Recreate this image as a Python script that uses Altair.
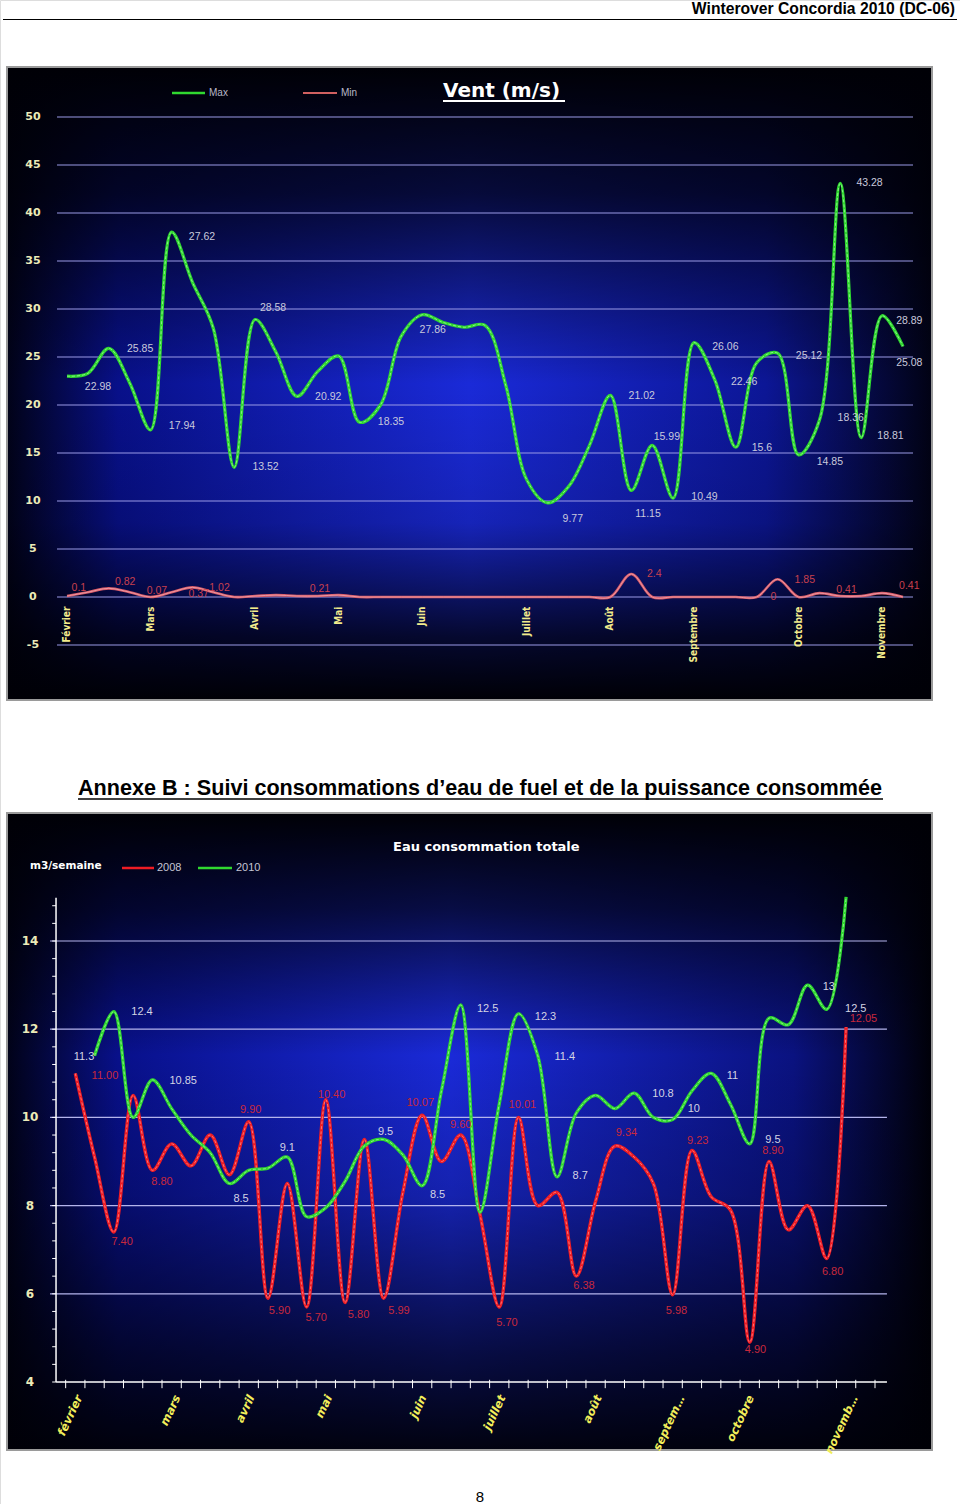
import altair as alt
import pandas as pd

# ---------------- Chart 1 : Vent (m/s) - weekly values, Février -> Novembre
wind_week = list(range(41))
wind_max = [23.0, 23.3, 25.9, 22.3, 17.4, 38.0, 32.8, 28.0, 13.5, 28.9,
            25.5, 20.9, 23.5, 25.1, 18.2, 20.0, 27.2, 29.4, 28.6, 28.1,
            28.3, 22.0, 12.2, 9.8, 11.5, 15.8, 21.0, 11.1, 15.8, 10.3,
            26.5, 22.6, 15.6, 24.4, 25.4, 14.8, 18.4, 43.1, 16.6, 29.3, 26.1]
wind_min = [0.1, 0.5, 0.9, 0.5, 0.0, 0.5, 1.0, 0.5, 0.0, 0.1,
            0.2, 0.1, 0.1, 0.2, 0.0, 0.0, 0.0, 0.0, 0.0, 0.0,
            0.0, 0.0, 0.0, 0.0, 0.0, 0.0, 0.0, 2.4, 0.0, 0.0,
            0.0, 0.0, 0.0, 0.0, 1.85, 0.0, 0.4, 0.1, 0.1, 0.4, 0.0]
wind_yticks = [-5, 0, 5, 10, 15, 20, 25, 30, 35, 40, 45, 50]
wind_months = ["Février", "Mars", "Avril", "Mai", "Juin", "Juillet", "Août",
               "Septembre", "Octobre", "Novembre"]
wind_month_week = [0, 4, 9, 13, 17, 22, 26, 30, 35, 39]

max_lbl_text = ["22.98", "25.85", "27.62", "17.94", "28.58", "13.52", "20.92", "18.35",
                "27.86", "9.77", "21.02", "11.15", "15.99", "10.49", "26.06", "22.46",
                "15.6", "25.12", "14.85", "43.28", "18.36", "18.81", "28.89", "25.08"]
max_lbl_week = [1.48, 3.5, 6.46, 5.5, 9.86, 9.5, 12.5, 15.5, 17.5, 24.2, 27.5, 27.8,
                28.7, 30.5, 31.5, 32.4, 33.25, 35.5, 36.5, 38.4, 37.5, 39.4, 40.3, 40.3]
max_lbl_val = [21.9, 25.8, 37.5, 17.8, 30.1, 13.5, 20.8, 18.2, 27.8, 8.1, 20.9, 8.6,
               16.7, 10.4, 26.0, 22.4, 15.5, 25.1, 14.1, 43.1, 18.6, 16.8, 28.75, 24.4]
min_lbl_text = ["0.1", "0.82", "0.07", "0.37", "1.02", "0.21", "2.4", "0", "1.85", "0.41", "0.41"]
min_lbl_week = [0.57, 2.78, 4.3, 6.3, 7.3, 12.1, 28.1, 33.8, 35.3, 37.3, 40.3]
min_lbl_val = [0.94, 1.56, 0.6, 0.3, 0.94, 0.83, 2.4, 0.0, 1.8, 0.7, 1.1]

# ---------------- Chart 2 : Eau consommation totale (m3/semaine)
eau_week_2008 = list(range(41))
eau_2008 = [11.0, 9.1, 7.4, 10.5, 8.8, 9.4, 8.9, 9.6, 8.7, 9.9,
            5.9, 8.5, 5.7, 10.4, 5.8, 9.5, 5.9, 8.3, 10.05, 9.0,
            9.6, 7.8, 5.7, 10.0, 8.0, 8.3, 6.4, 8.1, 9.35, 9.1,
            8.5, 5.98, 9.25, 8.2, 7.9, 4.9, 9.0, 7.45, 8.0, 6.8, 12.05]
eau_week_2010 = list(range(1, 41))
eau_2010 = [11.4, 12.4, 10.0, 10.85, 10.2, 9.6, 9.2, 8.5, 8.8,
            8.85, 9.1, 7.75, 7.95, 8.55, 9.35, 9.5, 9.15, 8.45, 10.6,
            12.55, 7.85, 10.3, 12.35, 11.4, 8.65, 10.1, 10.5, 10.2, 10.55,
            10.0, 9.95, 10.6, 11.0, 10.3, 9.4, 12.25, 12.1, 13.0, 12.45, 15.0]
eau_yticks = [4, 6, 8, 10, 12, 14]
eau_grid = [6, 8, 10, 12, 14]
eau_minor = [4.0, 4.4, 4.8, 5.2, 5.6, 6.0, 6.4, 6.8, 7.2, 7.6, 8.0, 8.4, 8.8, 9.2,
             9.6, 10.0, 10.4, 10.8, 11.2, 11.6, 12.0, 12.4, 12.8, 13.2, 13.6, 14.0,
             14.4, 14.8]
eau_xticks = [k - 0.5 for k in range(43)]
eau_months = ["février", "mars", "avril", "mai", "juin", "juillet", "août",
              "septem…", "octobre", "novemb…"]
eau_month_week = [0.24, 5.33, 9.17, 13.2, 18.1, 22.2, 27.2, 31.5, 35.1, 40.5]

lbl10_text = ["11.3", "12.4", "10.85", "8.5", "9.1", "9.5", "8.5", "12.5", "12.3",
              "11.4", "8.7", "10.8", "10", "11", "9.5", "13", "12.5"]
lbl10_week = [0.45, 3.46, 5.6, 8.6, 11.0, 16.1, 18.8, 21.4, 24.4, 25.4, 26.2,
              30.5, 32.1, 34.1, 36.2, 39.1, 40.5]
lbl10_val = [11.36, 12.38, 10.82, 8.14, 9.3, 9.66, 8.23, 12.45, 12.27, 11.38, 8.66,
             10.54, 10.18, 10.95, 9.48, 12.95, 12.45]
lbl08_text = ["11.00", "7.40", "8.80", "9.90", "5.90", "10.40", "5.70", "5.80", "5.99",
              "10.07", "9.60", "5.70", "10.01", "6.38", "9.34", "9.23", "5.98", "4.90",
              "8.90", "6.80", "12.05"]
lbl08_week = [1.54, 2.43, 4.5, 9.1, 10.6, 13.3, 12.5, 14.7, 16.8, 17.9, 20.0, 22.4,
              23.2, 26.4, 28.6, 32.3, 31.2, 35.3, 36.2, 39.3, 40.9]
lbl08_val = [10.95, 7.17, 8.53, 10.16, 5.6, 10.5, 5.44, 5.53, 5.6, 10.32, 9.82, 5.33,
             10.27, 6.17, 9.64, 9.46, 5.62, 4.72, 9.23, 6.49, 12.24]

# ---------------- scales (pixel ranges place each panel on the page)
X1 = alt.Scale(domain=[0, 40], range=[67, 903], nice=False, zero=False)
Y1 = alt.Scale(domain=[-5, 50], range=[645, 117], nice=False, zero=False)
X2 = alt.Scale(domain=[0, 40], range=[75.3, 846.1], nice=False, zero=False)
Y2 = alt.Scale(domain=[4, 15], range=[1382, 896.9], nice=False, zero=False)

one = pd.DataFrame({"a": [0]})
COND = "'DejaVu Sans Condensed', 'Liberation Sans', sans-serif"


def xq(field, sc):
    return alt.X(field, type="quantitative", scale=sc, axis=None)


def yq(field, sc):
    return alt.Y(field, type="quantitative", scale=sc, axis=None)


def lin(stops, vertical=False):
    return {"gradient": "linear", "x1": 0, "y1": 0,
            "x2": 0 if vertical else 1, "y2": 1 if vertical else 0,
            "stops": [{"offset": o, "color": c} for o, c in stops]}


layers = []


def background(x1, x2, y1, y2, hstops, vstops):
    base = alt.Chart(one).mark_rect(fill=lin(hstops)).encode(
        x=alt.value(x1), x2=alt.value(x2), y=alt.value(y1), y2=alt.value(y2))
    shade = alt.Chart(one).mark_rect(fill=lin(vstops, True), stroke="#9a9a9a",
                                     strokeWidth=2).encode(
        x=alt.value(x1), x2=alt.value(x2), y=alt.value(y1), y2=alt.value(y2))
    return [base, shade]


layers += background(7, 932, 67, 700,
                     [(0, "#010218"), (0.12, "#08108a"), (0.5, "#1a2ad8"),
                      (0.82, "#0c1696"), (1, "#010214")],
                     [(0, "rgba(0,0,6,1)"), (0.2, "rgba(0,0,6,0.75)"),
                      (0.5, "rgba(0,0,6,0)"), (0.72, "rgba(0,0,6,0.15)"),
                      (0.9, "rgba(0,0,6,0.8)"), (1, "rgba(0,0,6,1)")])
layers += background(7, 932, 813, 1450,
                     [(0, "#010218"), (0.12, "#08108a"), (0.48, "#1a2ad8"),
                      (0.85, "#0a1280"), (1, "#000008")],
                     [(0, "rgba(0,0,6,1)"), (0.15, "rgba(0,0,6,0.7)"),
                      (0.38, "rgba(0,0,6,0)"), (0.6, "rgba(0,0,6,0.2)"),
                      (0.85, "rgba(0,0,6,0.7)"), (1, "rgba(0,0,6,0.95)")])

# ---- chart 1 grid & axis labels
g1 = pd.DataFrame({"v": wind_yticks, "xs": -0.48, "xe": 40.48, "lx": -1.63,
                   "t": [str(v) for v in wind_yticks]})
layers.append(alt.Chart(g1).mark_rule(color="#9a9ae6", strokeWidth=1.2).encode(
    x=xq("xs", X1), x2="xe:Q", y=yq("v", Y1)))
layers.append(alt.Chart(g1).mark_text(font="DejaVu Sans", fontWeight="bold", fontSize=11,
                                      color="#ecebb8", align="center", baseline="middle").encode(
    x=xq("lx", X1), y=yq("v", Y1), text="t:N"))
m1 = pd.DataFrame({"w": wind_month_week, "m": wind_months, "v": -1.0})
layers.append(alt.Chart(m1).mark_text(font=COND, fontWeight="bold",
                                      fontSize=10, color="#f2eb8c", angle=270, align="right",
                                      baseline="middle").encode(
    x=xq("w", X1), y=yq("v", Y1), text="m:N"))

# ---- chart 1 series
d1 = pd.DataFrame({"w": wind_week, "mx": wind_max, "mn": wind_min})
layers.append(alt.Chart(d1).mark_line(interpolate="catmull-rom", color="#d85a68",
                                      strokeWidth=2.6).encode(x=xq("w", X1), y=yq("mn", Y1)))
layers.append(alt.Chart(d1).mark_line(interpolate="catmull-rom", color="#f0a8b0",
                                      strokeWidth=0.8).encode(x=xq("w", X1), y=yq("mn", Y1)))
layers.append(alt.Chart(d1).mark_line(interpolate="catmull-rom", color="#2fd82f",
                                      strokeWidth=3.2).encode(x=xq("w", X1), y=yq("mx", Y1)))
layers.append(alt.Chart(d1).mark_line(interpolate="catmull-rom", color="#9cf59c",
                                      strokeWidth=0.8, strokeDash=[3, 2]).encode(
    x=xq("w", X1), y=yq("mx", Y1)))

l1 = pd.DataFrame({"w": max_lbl_week, "v": max_lbl_val, "t": max_lbl_text})
layers.append(alt.Chart(l1).mark_text(font="Liberation Sans", fontSize=10.5, color="#c9c9dc",
                                      align="center", baseline="middle").encode(
    x=xq("w", X1), y=yq("v", Y1), text="t:N"))
l1b = pd.DataFrame({"w": min_lbl_week, "v": min_lbl_val, "t": min_lbl_text})
layers.append(alt.Chart(l1b).mark_text(font="Liberation Sans", fontSize=10.5, color="#c8404e",
                                       align="center", baseline="middle").encode(
    x=xq("w", X1), y=yq("v", Y1), text="t:N"))

# ---- chart 1 title & legend
layers.append(alt.Chart(one).mark_text(font="DejaVu Sans", fontWeight="bold", fontSize=20,
                                       color="white", align="left", baseline="alphabetic").encode(
    x=alt.value(443), y=alt.value(97), text=alt.value("Vent (m/s)")))
layers.append(alt.Chart(one).mark_rule(color="white", strokeWidth=2).encode(
    x=alt.value(443), x2=alt.value(565), y=alt.value(101)))
layers.append(alt.Chart(one).mark_rule(color="#30d830", strokeWidth=2.5).encode(
    x=alt.value(172), x2=alt.value(205), y=alt.value(93)))
layers.append(alt.Chart(one).mark_rule(color="#d06060", strokeWidth=2).encode(
    x=alt.value(303), x2=alt.value(337), y=alt.value(93)))
layers.append(alt.Chart(one).mark_text(font="Liberation Sans", fontSize=10, color="#b8b8c8",
                                       align="left", baseline="middle").encode(
    x=alt.value(209), y=alt.value(93), text=alt.value("Max")))
layers.append(alt.Chart(one).mark_text(font="Liberation Sans", fontSize=10, color="#b8b8c8",
                                       align="left", baseline="middle").encode(
    x=alt.value(341), y=alt.value(93), text=alt.value("Min")))

# ---- chart 2 grid, axes & labels
g2 = pd.DataFrame({"v": eau_grid, "xs": -1.31, "xe": 42.12})
layers.append(alt.Chart(g2).mark_rule(color="#b4b4ec", strokeWidth=1.2).encode(
    x=xq("xs", X2), x2="xe:Q", y=yq("v", Y2)))
ax = pd.DataFrame({"xs": [-1.0], "xe": [42.12], "y0": [4.0], "y1": [14.98]})
layers.append(alt.Chart(ax).mark_rule(color="white", strokeWidth=1.5).encode(
    x=xq("xs", X2), x2="xe:Q", y=yq("y0", Y2)))
layers.append(alt.Chart(ax).mark_rule(color="white", strokeWidth=1.5).encode(
    x=xq("xs", X2), y=yq("y0", Y2), y2="y1:Q"))
mt = pd.DataFrame({"v": eau_minor, "xs": -1.2, "xe": -1.0})
layers.append(alt.Chart(mt).mark_rule(color="white", strokeWidth=1).encode(
    x=xq("xs", X2), x2="xe:Q", y=yq("v", Y2)))
xt = pd.DataFrame({"w": eau_xticks, "y0": 3.86, "y1": 4.05})
layers.append(alt.Chart(xt).mark_rule(color="white", strokeWidth=1).encode(
    x=xq("w", X2), y=yq("y0", Y2), y2="y1:Q"))
yl2 = pd.DataFrame({"v": eau_yticks, "lx": -2.35, "t": [str(v) for v in eau_yticks]})
layers.append(alt.Chart(yl2).mark_text(font="DejaVu Sans", fontWeight="bold", fontSize=12,
                                       color="#ecebb8", align="center", baseline="middle").encode(
    x=xq("lx", X2), y=yq("v", Y2), text="t:N"))
m2 = pd.DataFrame({"w": eau_month_week, "m": eau_months, "v": 3.68})
layers.append(alt.Chart(m2).mark_text(font="DejaVu Sans", fontWeight="bold", fontStyle="italic",
                                      fontSize=11.5, color="#f2ee5a", angle=295, align="right",
                                      baseline="middle").encode(
    x=xq("w", X2), y=yq("v", Y2), text="m:N"))

# ---- chart 2 series
d08 = pd.DataFrame({"w": eau_week_2008, "v": eau_2008})
d10 = pd.DataFrame({"w": eau_week_2010, "v": eau_2010})
layers.append(alt.Chart(d08).mark_line(interpolate="catmull-rom", color="#ee1c24",
                                       strokeWidth=3.4).encode(x=xq("w", X2), y=yq("v", Y2)))
layers.append(alt.Chart(d08).mark_line(interpolate="catmull-rom", color="#ff8a8a",
                                       strokeWidth=0.8, strokeDash=[3, 2]).encode(
    x=xq("w", X2), y=yq("v", Y2)))
layers.append(alt.Chart(d10).mark_line(interpolate="catmull-rom", color="#2fd82f",
                                       strokeWidth=3.2).encode(x=xq("w", X2), y=yq("v", Y2)))
layers.append(alt.Chart(d10).mark_line(interpolate="catmull-rom", color="#9cf59c",
                                       strokeWidth=0.8, strokeDash=[3, 2]).encode(
    x=xq("w", X2), y=yq("v", Y2)))
t10 = pd.DataFrame({"w": lbl10_week, "v": lbl10_val, "t": lbl10_text})
layers.append(alt.Chart(t10).mark_text(font="Liberation Sans", fontSize=11, color="#d4d4e4",
                                       align="center", baseline="middle").encode(
    x=xq("w", X2), y=yq("v", Y2), text="t:N"))
t08 = pd.DataFrame({"w": lbl08_week, "v": lbl08_val, "t": lbl08_text})
layers.append(alt.Chart(t08).mark_text(font="Liberation Sans", fontSize=11, color="#c8283c",
                                       align="center", baseline="middle").encode(
    x=xq("w", X2), y=yq("v", Y2), text="t:N"))

# ---- chart 2 title & legend
layers.append(alt.Chart(one).mark_text(font="DejaVu Sans", fontWeight="bold", fontSize=13,
                                       color="white", align="left", baseline="middle").encode(
    x=alt.value(393), y=alt.value(847), text=alt.value("Eau consommation totale")))
layers.append(alt.Chart(one).mark_text(font="DejaVu Sans", fontWeight="bold", fontSize=10.5,
                                       color="white", align="left", baseline="middle").encode(
    x=alt.value(30), y=alt.value(866), text=alt.value("m3/semaine")))
layers.append(alt.Chart(one).mark_rule(color="#ee1c24", strokeWidth=2.5).encode(
    x=alt.value(122), x2=alt.value(154), y=alt.value(868)))
layers.append(alt.Chart(one).mark_rule(color="#30d830", strokeWidth=2.5).encode(
    x=alt.value(198), x2=alt.value(232), y=alt.value(868)))
layers.append(alt.Chart(one).mark_text(font="Liberation Sans", fontSize=11, color="#c4c4d4",
                                       align="left", baseline="middle").encode(
    x=alt.value(157), y=alt.value(868), text=alt.value("2008")))
layers.append(alt.Chart(one).mark_text(font="Liberation Sans", fontSize=11, color="#c4c4d4",
                                       align="left", baseline="middle").encode(
    x=alt.value(236), y=alt.value(868), text=alt.value("2010")))

# ---- page decorations
layers.append(alt.Chart(one).mark_text(font="Liberation Sans", fontWeight="bold", fontSize=15.7,
                                       color="black", align="right", baseline="alphabetic").encode(
    x=alt.value(955), y=alt.value(14), text=alt.value("Winterover Concordia 2010 (DC-06)")))
layers.append(alt.Chart(one).mark_rule(color="black", strokeWidth=1).encode(
    x=alt.value(3), x2=alt.value(957), y=alt.value(19.5)))
layers.append(alt.Chart(one).mark_text(font="Liberation Sans", fontWeight="bold", fontSize=21.6,
                                       color="black", align="center", baseline="alphabetic").encode(
    x=alt.value(480), y=alt.value(795),
    text=alt.value("Annexe B : Suivi consommations d’eau de fuel et de la puissance consommée")))
layers.append(alt.Chart(one).mark_rule(color="black", strokeWidth=1.5).encode(
    x=alt.value(78), x2=alt.value(883), y=alt.value(799)))
layers.append(alt.Chart(one).mark_text(font="Liberation Sans", fontSize=15, color="black",
                                       align="center", baseline="middle").encode(
    x=alt.value(480), y=alt.value(1497), text=alt.value("8")))

chart = alt.layer(*layers).resolve_scale(x="independent", y="independent").properties(
    width=960, height=1504, padding=0,
    autosize=alt.AutoSizeParams(type="none"),
).configure_view(stroke=None).configure(background="white")

chart.save("out.html", embed_options={"renderer": "svg", "actions": False})
